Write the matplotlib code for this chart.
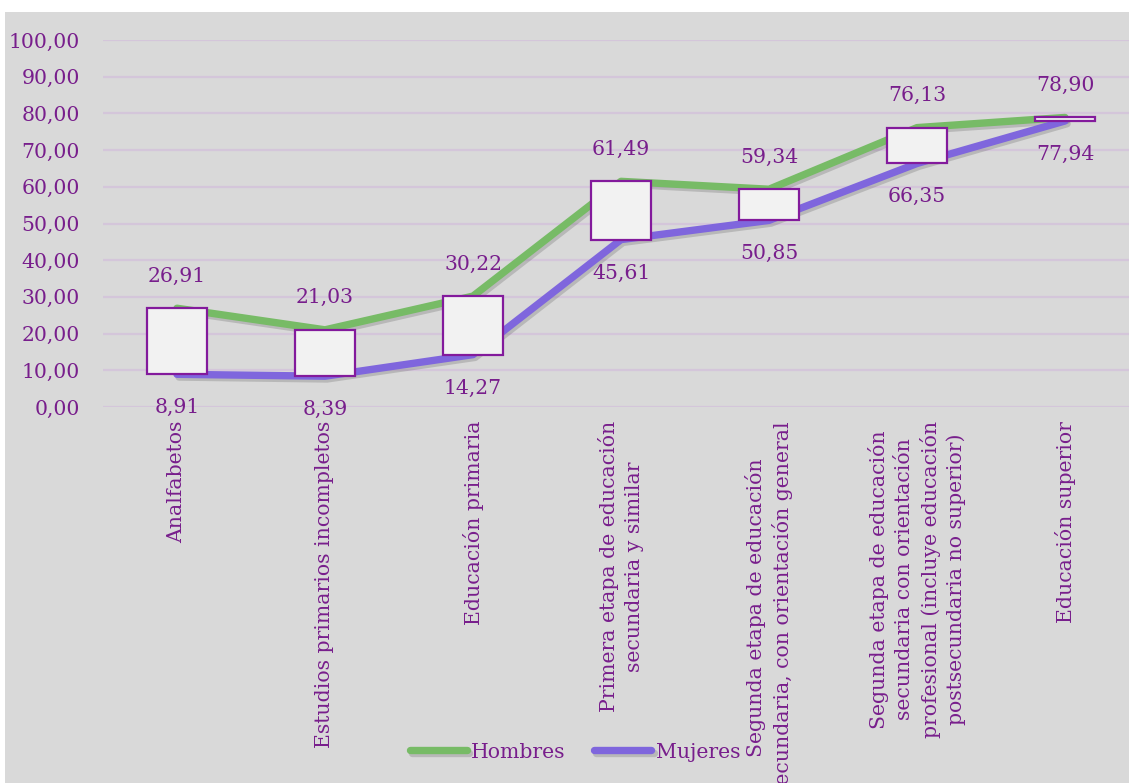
import matplotlib
matplotlib.use("Agg")
import matplotlib.pyplot as plt
import matplotlib.patheffects as pe
from matplotlib.patches import Rectangle
import numpy as np

categories = ["Analfabetos",
              "Estudios primarios incompletos",
              "Educación primaria",
              "Primera etapa de educación\nsecundaria y similar",
              "Segunda etapa de educación\nsecundaria, con orientación general",
              "Segunda etapa de educación\nsecundaria con orientación\nprofesional (incluye educación\npostsecundaria no superior)",
              "Educación superior"]
hombres = [26.91, 21.03, 30.22, 61.49, 59.34, 76.13, 78.90]
mujeres = [8.91, 8.39, 14.27, 45.61, 50.85, 66.35, 77.94]
y_ticks = [0, 10, 20, 30, 40, 50, 60, 70, 80, 90, 100]

text_color = "#781e8c"
green = "#77bb66"
violet = "#7f66dd"
fs = 14.7

plt.rcParams['font.family'] = ['DejaVu Serif']

fig = plt.figure(figsize=(11.29, 7.83), dpi=100, facecolor="white")
# grey chart area (white strip on top and left)
fig.patches.append(Rectangle((5 / 1129, 0), 1, (783 - 12) / 783, transform=fig.transFigure,
                             facecolor="#d9d9d9", edgecolor="none", zorder=-10))

ax = fig.add_axes([103 / 1129, 376 / 783, 1036 / 1129, 367 / 783])
ax.set_facecolor("none")
x = np.arange(len(categories))

shadow = [pe.SimpleLineShadow(offset=(1.5, -2), alpha=0.22, shadow_color="#444444"), pe.Normal()]
ax.plot(x, hombres, color=green, lw=5.3, solid_capstyle="round", label="Hombres",
        path_effects=shadow, zorder=3)
ax.plot(x, mujeres, color=violet, lw=5.3, solid_capstyle="round", label="Mujeres",
        path_effects=shadow, zorder=3)

# up-down bars
for i in x:
    lo = min(hombres[i], mujeres[i])
    hi = max(hombres[i], mujeres[i])
    ax.add_patch(Rectangle((i - 0.2, lo), 0.4, hi - lo, facecolor="#f2f2f2",
                           edgecolor="#831a9c", lw=1.6, zorder=4))

for i in x:
    ax.annotate(f"{hombres[i]:.2f}".replace(".", ","), (i, hombres[i]), xytext=(0, 23),
                textcoords="offset points", ha="center", va="center",
                color=text_color, fontsize=fs)
    ax.annotate(f"{mujeres[i]:.2f}".replace(".", ","), (i, mujeres[i]), xytext=(0, -24),
                textcoords="offset points", ha="center", va="center",
                color=text_color, fontsize=fs)

ax.set_xlim(-0.5, len(categories) - 0.5)
ax.set_ylim(0, 100)
ax.set_yticks(y_ticks)
ax.set_yticklabels([f"{v:.2f}".replace(".", ",") for v in y_ticks], color=text_color, fontsize=fs)
ax.yaxis.grid(True, color="#d4c6da", lw=1.6)
ax.set_axisbelow(True)
ax.tick_params(axis="y", length=0, pad=16.5)
ax.tick_params(axis="x", length=0, pad=10)
ax.set_xticks(x)
ax.set_xticklabels(categories, rotation=90, ha="center", va="top", multialignment="center",
                   color=text_color, fontsize=fs, linespacing=1.35)
for s in ax.spines.values():
    s.set_visible(False)

ax.legend(loc="center", bbox_to_anchor=(575 / 1129, 31 / 783), bbox_transform=fig.transFigure,
          ncol=2, frameon=False, fontsize=fs, labelcolor=text_color, handlelength=2.8,
          handletextpad=0.2, columnspacing=1.4)

fig.savefig("out.png", dpi=100, facecolor=fig.get_facecolor())
